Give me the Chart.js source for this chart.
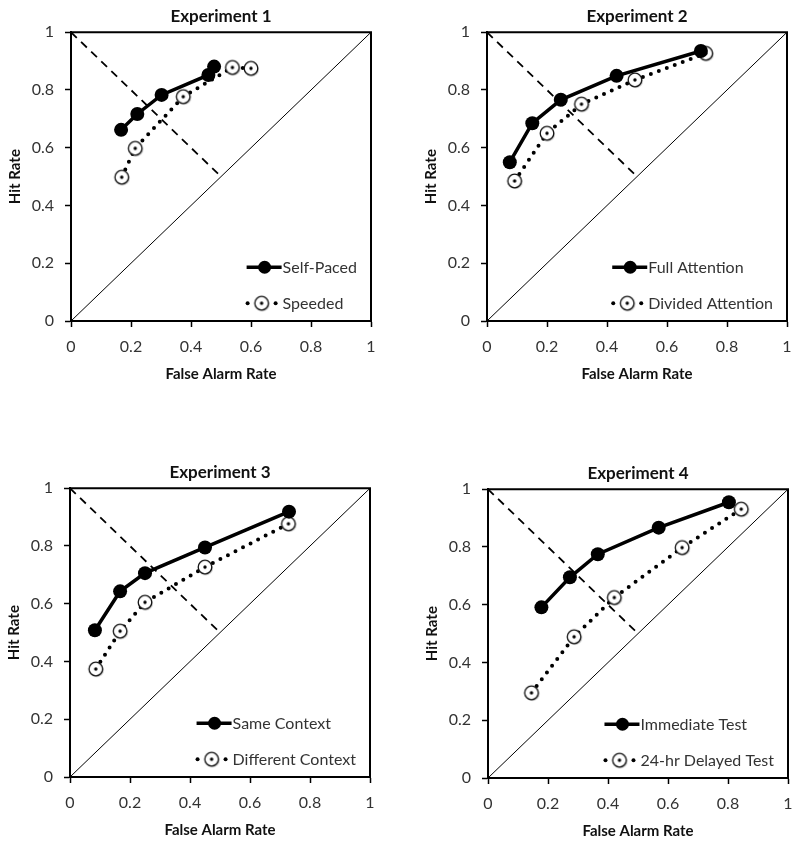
<!DOCTYPE html>
<html>
<head>
<meta charset="utf-8">
<script src="https://cdn.jsdelivr.net/npm/chart.js@4.4.1/dist/chart.umd.min.js"></script>
<style>
  body { margin: 0; background: #fff; }
  #wrap { position: relative; width: 800px; height: 846px; overflow: hidden; background: #fff; }
  .panel { position: absolute; width: 400px; height: 400px; }
</style>
</head>
<body>
<div id="wrap">
  <div class="panel" style="left:0px;top:0px"><canvas id="c1"></canvas></div>
  <div class="panel" style="left:416px;top:0px"><canvas id="c2"></canvas></div>
  <div class="panel" style="left:-1px;top:456px"><canvas id="c3"></canvas></div>
  <div class="panel" style="left:417px;top:457px"><canvas id="c4"></canvas></div>
</div>
<script>
// axis ticks
const rateTicks = [0, 0.2, 0.4, 0.6, 0.8, 1];

// reference lines: chance diagonal and the minor diagonal
const chanceFA = [0, 1];
const chanceHR = [0, 1];
const minorFA = [0, 0.5];
const minorHR = [1, 0.5];

// Experiment 1
const exp1Labels = ['Self-Paced', 'Speeded'];
const exp1SelfFA = [0.167, 0.221, 0.302, 0.458, 0.477];
const exp1SelfHR = [0.662, 0.717, 0.783, 0.852, 0.881];
const exp1SpeedFA = [0.169, 0.214, 0.374, 0.538, 0.600];
const exp1SpeedHR = [0.498, 0.598, 0.777, 0.878, 0.875];

// Experiment 2
const exp2Labels = ['Full Attention', 'Divided Attention'];
const exp2FullFA = [0.076, 0.151, 0.246, 0.432, 0.713];
const exp2FullHR = [0.550, 0.685, 0.766, 0.849, 0.935];
const exp2DivFA = [0.092, 0.200, 0.315, 0.493, 0.729];
const exp2DivHR = [0.485, 0.650, 0.751, 0.835, 0.927];

// Experiment 3
const exp3Labels = ['Same Context', 'Different Context'];
const exp3SameFA = [0.083, 0.167, 0.250, 0.450, 0.730];
const exp3SameHR = [0.508, 0.643, 0.706, 0.795, 0.919];
const exp3DiffFA = [0.086, 0.167, 0.250, 0.450, 0.728];
const exp3DiffHR = [0.374, 0.505, 0.605, 0.727, 0.877];

// Experiment 4
const exp4Labels = ['Immediate Test', '24-hr Delayed Test'];
const exp4ImmFA = [0.178, 0.273, 0.366, 0.569, 0.803];
const exp4ImmHR = [0.591, 0.695, 0.775, 0.867, 0.955];
const exp4DelFA = [0.145, 0.287, 0.421, 0.647, 0.844];
const exp4DelHR = [0.295, 0.489, 0.625, 0.798, 0.931];

const FONT = 'Lato, "Open Sans", sans-serif';
const TEXT = '#333';

function pts(xs, ys) {
    return xs.map((x, i) => ({ x: x, y: ys[i] }));
}

// open marker with small centre dot
function makeOpenMarker() {
    const c = document.createElement('canvas');
    c.width = 20; c.height = 20;
    const g = c.getContext('2d');
    g.fillStyle = 'rgba(0,0,0,0.18)';
    g.beginPath(); g.arc(11, 11, 7.2, 0, Math.PI * 2); g.fill();
    g.fillStyle = '#fff';
    g.strokeStyle = '#111';
    g.lineWidth = 1.3;
    g.beginPath(); g.arc(10, 10, 6.8, 0, Math.PI * 2); g.fill(); g.stroke();
    g.fillStyle = '#000';
    g.beginPath(); g.arc(10, 10, 1.7, 0, Math.PI * 2); g.fill();
    return c;
}
const openMarker = makeOpenMarker();

// box around plot + legend inside bottom right
const boxAndLegend = {
    id: 'boxAndLegend',
    afterDatasetsDraw(chart) {
        const ctx = chart.ctx;
        const a = chart.chartArea;
        ctx.save();
        ctx.strokeStyle = '#000';
        ctx.lineWidth = 2;
        ctx.strokeRect(a.left, a.top, a.right - a.left, a.bottom - a.top);

        const series = chart.data.datasets.filter(d => d.label);
        ctx.font = '16px ' + FONT;
        const maxW = Math.max(...series.map(d => ctx.measureText(d.label).width));
        const textX = a.right - 14 - maxW;
        series.forEach((d, i) => {
            const y = a.top + 235 + i * 36;
            if (d.legendKind === 'solid') {
                ctx.strokeStyle = '#000';
                ctx.lineWidth = 3.5;
                ctx.beginPath(); ctx.moveTo(textX - 36, y); ctx.lineTo(textX - 1, y); ctx.stroke();
                ctx.fillStyle = '#000';
                ctx.beginPath(); ctx.arc(textX - 18, y, 6.5, 0, Math.PI * 2); ctx.fill();
            } else {
                ctx.fillStyle = '#000';
                [textX - 35, textX - 7].forEach(x => {
                    ctx.beginPath(); ctx.arc(x, y, 2, 0, Math.PI * 2); ctx.fill();
                });
                ctx.drawImage(openMarker, textX - 31, y - 10);
            }
            ctx.fillStyle = TEXT;
            ctx.textBaseline = 'middle';
            ctx.textAlign = 'left';
            ctx.fillText(d.label, textX, y + 1);
        });
        ctx.restore();
    }
};

function makeChart(id, title, labels, aFA, aHR, bFA, bHR) {
    new Chart(document.getElementById(id), {
        type: 'scatter',
        data: {
            datasets: [
                {
                    label: labels[0],
                    legendKind: 'solid',
                    data: pts(aFA, aHR),
                    showLine: true,
                    borderColor: '#000',
                    borderWidth: 3.5,
                    pointRadius: 7,
                    pointBackgroundColor: '#000',
                    pointBorderColor: '#000',
                    pointBorderWidth: 0
                },
                {
                    label: labels[1],
                    legendKind: 'dotted',
                    data: pts(bFA, bHR),
                    showLine: true,
                    borderColor: '#000',
                    borderWidth: 4,
                    borderDash: [0, 8.5],
                    borderCapStyle: 'round',
                    pointStyle: openMarker,
                    pointRadius: 7
                },
                {
                    data: pts(minorFA, minorHR),
                    showLine: true,
                    borderColor: '#000',
                    borderWidth: 1.8,
                    borderDash: [8, 6],
                    pointRadius: 0
                },
                {
                    data: pts(chanceFA, chanceHR),
                    showLine: true,
                    borderColor: '#000',
                    borderWidth: 1,
                    pointRadius: 0
                }
            ]
        },
        options: {
            responsive: true,
            maintainAspectRatio: false,
            animation: false,
            layout: { padding: { left: 0, right: 29, top: 0, bottom: 0 } },
            plugins: {
                legend: { display: false },
                tooltip: { enabled: false },
                title: {
                    display: true,
                    text: title,
                    fullSize: false,
                    color: '#111',
                    font: { family: FONT, size: 17, weight: 'bold', lineHeight: 1.25 },
                    padding: { top: 6, bottom: 5 }
                }
            },
            scales: {
                x: {
                    type: 'linear',
                    min: 0, max: 1,
                    afterFit: s => { s.height = 79; },
                    afterBuildTicks: s => { s.ticks = rateTicks.map(v => ({ value: v })); },
                    grid: { drawOnChartArea: false, drawTicks: true, tickLength: 6, tickColor: '#000', tickWidth: 1.5 },
                    border: { display: true, color: '#000', width: 2 },
                    ticks: { color: TEXT, padding: 10, font: { family: FONT, size: 16 }, callback: v => String(v) },
                    title: {
                        display: true, text: 'False Alarm Rate', color: '#111',
                        font: { family: FONT, size: 15, weight: 'bold' },
                        padding: { top: 0, bottom: 17 }
                    }
                },
                y: {
                    type: 'linear',
                    min: 0, max: 1,
                    afterFit: s => { s.width = 71; },
                    afterBuildTicks: s => { s.ticks = rateTicks.map(v => ({ value: v })); },
                    grid: { drawOnChartArea: false, drawTicks: true, tickLength: 6, tickColor: '#000', tickWidth: 1.5 },
                    border: { display: true, color: '#000', width: 2 },
                    ticks: { color: TEXT, padding: 11, font: { family: FONT, size: 16 }, callback: v => String(v) },
                    title: {
                        display: true, text: 'Hit Rate', color: '#111',
                        font: { family: FONT, size: 15, weight: 'bold' },
                        padding: { top: 6, bottom: 0 }
                    }
                }
            }
        },
        plugins: [boxAndLegend]
    });
}

makeChart('c1', 'Experiment 1', exp1Labels, exp1SelfFA, exp1SelfHR, exp1SpeedFA, exp1SpeedHR);
makeChart('c2', 'Experiment 2', exp2Labels, exp2FullFA, exp2FullHR, exp2DivFA, exp2DivHR);
makeChart('c3', 'Experiment 3', exp3Labels, exp3SameFA, exp3SameHR, exp3DiffFA, exp3DiffHR);
makeChart('c4', 'Experiment 4', exp4Labels, exp4ImmFA, exp4ImmHR, exp4DelFA, exp4DelHR);
</script>
</body>
</html>
